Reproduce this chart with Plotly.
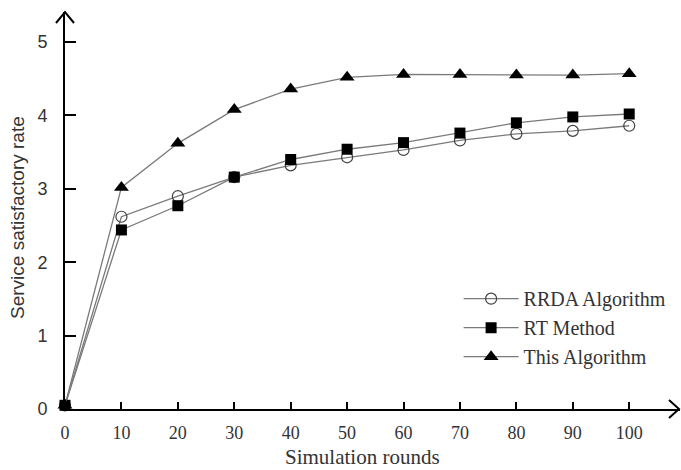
import plotly.graph_objects as go

# Simulation rounds and service satisfactory rate for each method
rounds = [0, 10, 20, 30, 40, 50, 60, 70, 80, 90, 100]
rrda = [0.05, 2.62, 2.90, 3.16, 3.32, 3.43, 3.53, 3.66, 3.75, 3.79, 3.86]
rt_method = [0.05, 2.44, 2.77, 3.16, 3.40, 3.54, 3.63, 3.76, 3.90, 3.98, 4.02]
this_algo = [0.05, 3.02, 3.62, 4.08, 4.36, 4.52, 4.56, 4.56, 4.55, 4.55, 4.57]

series_names = ["RRDA Algorithm", "RT Method", "This Algorithm"]
x_ticks = [0, 10, 20, 30, 40, 50, 60, 70, 80, 90, 100]
y_ticks = [0, 1, 2, 3, 4, 5]

W, H = 681, 470
ML, MR, MT, MB = 65, 1, 12, 61
SERIF = "Liberation Serif, Times New Roman, serif"
SANS = "Liberation Sans, Arial, sans-serif"
TXT = "#333333"
LINE = "#7a7a7a"

fig = go.Figure()
styles = [
    dict(symbol="circle-open", size=11, color="#404040", line=dict(width=1.2, color="#404040")),
    dict(symbol="square", size=11, color="black"),
    dict(symbol="triangle-up", size=13, color="black"),
]
for name, vals, mk in zip(series_names, [rrda, rt_method, this_algo], styles):
    fig.add_trace(go.Scatter(
        x=rounds, y=vals, name=name, mode="lines+markers",
        line=dict(color=LINE, width=1.3), marker=mk, cliponaxis=False,
    ))

# Arrowheads at the ends of both axes
fig.add_shape(type="path", xref="paper", yref="paper", xsizemode="pixel", ysizemode="pixel",
              xanchor=0, yanchor=1, path="M -9 -11 L 0 0 L 9 -11",
              line=dict(color="black", width=2))
fig.add_shape(type="path", xref="paper", yref="paper", xsizemode="pixel", ysizemode="pixel",
              xanchor=1, yanchor=0, path="M -11 9 L -1 0 L -11 -9",
              line=dict(color="black", width=2))

# Axis titles
fig.add_annotation(text="Simulation rounds", xref="paper", yref="paper",
                   x=(362 - ML) / (W - ML - MR), y=0, yshift=-48, xanchor="center", yanchor="middle",
                   showarrow=False, font=dict(family=SERIF, size=21, color=TXT))
fig.add_annotation(text="Service satisfactory rate", xref="paper", yref="paper",
                   x=0, xshift=-(ML - 17), y=(H - MB - 218) / (H - MT - MB),
                   xanchor="center", yanchor="middle", textangle=-90,
                   showarrow=False, font=dict(family=SANS, size=19, color=TXT))

fig.update_layout(
    width=W, height=H,
    margin=dict(l=ML, r=MR, t=MT, b=MB),
    paper_bgcolor="white", plot_bgcolor="white",
    font=dict(family=SERIF, size=18, color=TXT),
    showlegend=True,
    legend=dict(
        x=0.64, y=0.327, xanchor="left", yanchor="top",
        bgcolor="rgba(0,0,0,0)", borderwidth=0,
        font=dict(family=SERIF, size=20, color=TXT),
        itemwidth=55, tracegroupgap=0,
    ),
    xaxis=dict(
        range=[0, 109], tickvals=x_ticks, ticktext=[str(v) for v in x_ticks],
        showgrid=False, zeroline=False, showline=True, linecolor="black", linewidth=2,
        ticks="inside", ticklen=7, tickwidth=2, tickcolor="black",
        ticklabelstandoff=6, tickfont=dict(family=SERIF, size=18, color=TXT),
    ),
    yaxis=dict(
        range=[0, 5.41], tickvals=y_ticks,
        showgrid=False, zeroline=False, showline=True, linecolor="black", linewidth=2,
        ticks="inside", ticklen=11, tickwidth=2, tickcolor="black",
        ticklabelstandoff=12, tickfont=dict(family=SANS, size=18, color=TXT),
    ),
)

fig.write_html("out.html")
